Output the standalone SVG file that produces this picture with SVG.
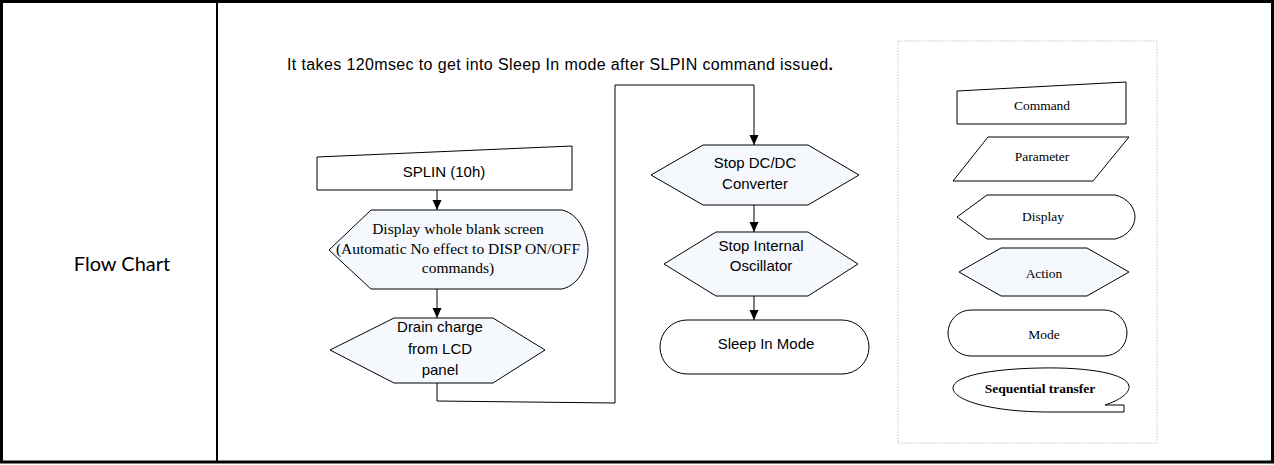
<svg xmlns="http://www.w3.org/2000/svg" width="1274" height="465" viewBox="0 0 1274 465">
<style>
.frame{fill:none;stroke:#000;stroke-width:3}
.div{stroke:#000;stroke-width:2}
.shape{stroke:#000;stroke-width:1;fill:#fff}
.act{stroke:#000;stroke-width:1;fill:#f5f8fc}
.conn{fill:none;stroke:#000;stroke-width:1}
.sans{font-family:"Liberation Sans",Arial,sans-serif;font-size:15px;fill:#000;text-anchor:middle}
.serif{font-family:"Liberation Serif","Times New Roman",serif;font-size:15.5px;fill:#000;text-anchor:middle}
.leg{font-family:"Liberation Serif","Times New Roman",serif;font-size:13.5px;fill:#000;text-anchor:middle}
.hdr{font-family:Lato,"Open Sans",sans-serif;font-size:20px;fill:#000;text-anchor:middle}
</style>
<defs>
<marker id="arr" markerUnits="userSpaceOnUse" markerWidth="10" markerHeight="10" refX="10" refY="5" orient="auto">
<path d="M0,0.5 L10,5 L0,9.5 Z" fill="#000"/>
</marker>
</defs>
<rect x="0" y="0" width="1274" height="465" fill="#fff"/>
<rect class="frame" x="1.5" y="1.5" width="1271" height="460.5"/>
<line class="div" x1="217" y1="2" x2="217" y2="462"/>
<text class="hdr" x="122" y="271">Flow Chart</text>
<text x="287" y="70" font-family="Liberation Sans, Arial, sans-serif" font-size="16" fill="#000" textLength="546" lengthAdjust="spacing">It takes 120msec to get into Sleep In mode after SLPIN command issued<tspan font-weight="bold">.</tspan></text>
<g id="connectors">
<line class="conn" x1="437" y1="190" x2="437" y2="210" marker-end="url(#arr)"/>
<line class="conn" x1="437" y1="289" x2="437" y2="318" marker-end="url(#arr)"/>
<polyline class="conn" points="437,383 437,401 615,403 615,85 754,85 754,145" marker-end="url(#arr)"/>
<line class="conn" x1="754" y1="205" x2="754" y2="232" marker-end="url(#arr)"/>
<line class="conn" x1="754" y1="296" x2="754" y2="320" marker-end="url(#arr)"/>
</g>
<g id="splin">
<polygon class="shape" points="317,157 572,146 572,190 317,190"/>
<text class="sans" x="444" y="177">SPLIN (10h)</text>
</g>
<g id="display-blank">
<path class="act" d="M329,250 L371,210 L562,210 C580,214 588,236 588,250 C588,264 580,285 562,289 L371,289 Z"/>
<text class="serif" x="458" y="234">Display whole blank screen</text>
<text class="serif" x="458" y="254">(Automatic No effect to DISP ON/OFF</text>
<text class="serif" x="458" y="273">commands)</text>
</g>
<g id="drain">
<polygon class="act" points="330,350 394,318 493,318 545,350 493,383 394,383"/>
<text class="sans" x="440" y="332">Drain charge</text>
<text class="sans" x="440" y="354">from LCD</text>
<text class="sans" x="440" y="375">panel</text>
</g>
<g id="stop-dcdc">
<polygon class="act" points="651,175 703,145 808,145 859,175 808,205 703,205"/>
<text class="sans" x="755" y="168">Stop DC/DC</text>
<text class="sans" x="755" y="189">Converter</text>
</g>
<g id="stop-osc">
<polygon class="act" points="664,264 716,232 808,232 858,264 808,296 716,296"/>
<text class="sans" x="761" y="251">Stop Internal</text>
<text class="sans" x="761" y="271">Oscillator</text>
</g>
<g id="sleep-in">
<rect class="shape" x="660" y="320" width="209" height="54" rx="27" ry="27"/>
<text class="sans" x="766" y="349">Sleep In Mode</text>
</g>
<g id="legend">
<rect x="898" y="41" width="259" height="402" fill="none" stroke="#c4c4c4" stroke-width="1" stroke-dasharray="1.5 1.5"/>
<g id="leg-command">
<polygon class="shape" points="957,91 1126,82 1126,124 957,124"/>
<text class="leg" x="1042" y="110">Command</text>
</g>
<g id="leg-parameter">
<polygon class="shape" points="988,137 1129,137 1093,181 953,181"/>
<text class="leg" x="1042" y="161">Parameter</text>
</g>
<g id="leg-display">
<path class="shape" d="M957,217 L987,195 L1115,195 C1128,198 1135,208 1135,217 C1135,226 1128,236 1115,239 L987,239 Z"/>
<text class="leg" x="1043" y="221">Display</text>
</g>
<g id="leg-action">
<polygon class="act" points="959,272 1001,248 1087,248 1129,272 1087,296 1001,296"/>
<text class="leg" x="1044" y="278" font-size="16">Action</text>
</g>
<g id="leg-mode">
<rect class="shape" x="948" y="310" width="179" height="46" rx="23" ry="23"/>
<text class="leg" x="1044" y="339" font-size="15" fill="#333">Mode</text>
</g>
<g id="leg-seq">
<path class="shape" d="M1105,405 C1120,400 1130,393 1129,386 C1127,374 1090,367 1040,368 C990,369 953,376 953,388 C953,400 990,412 1050,412 L1124,412 L1124,405 Z"/>
<text class="leg" x="1040" y="393" font-size="13" font-weight="bold">Sequential transfer</text>
</g>
</g>
</svg>
